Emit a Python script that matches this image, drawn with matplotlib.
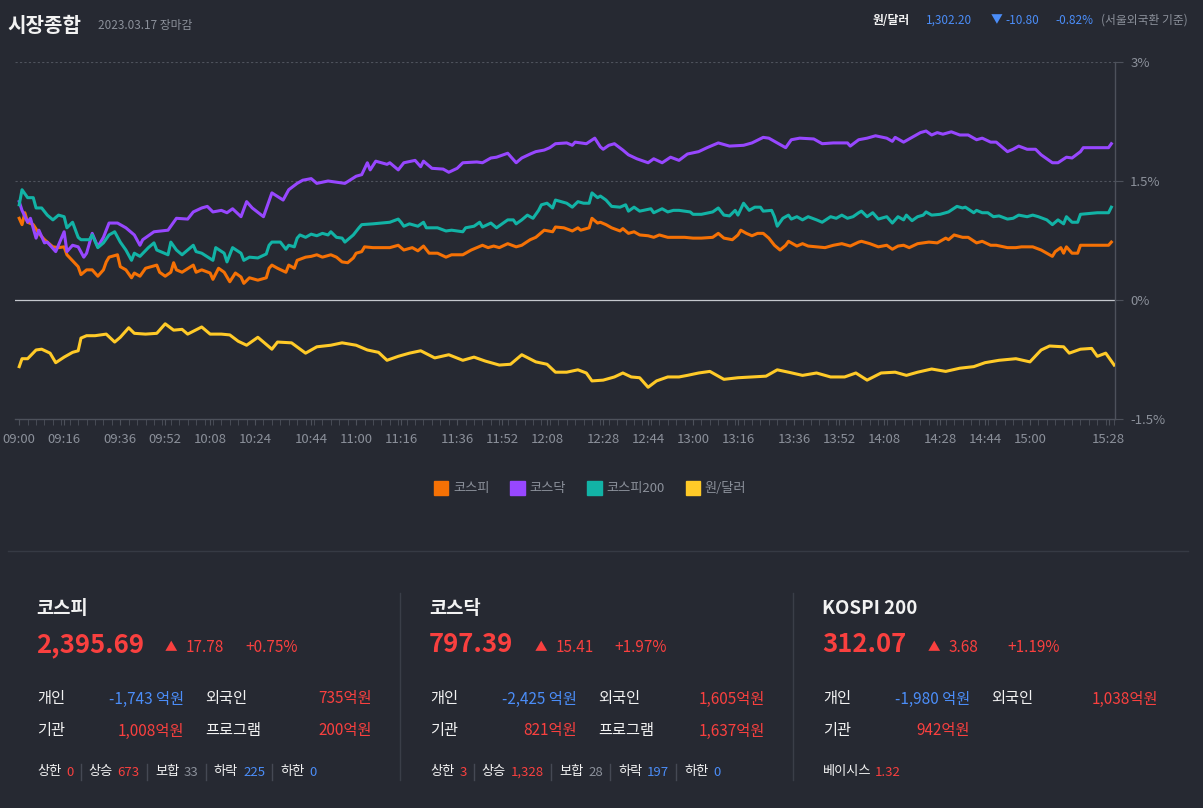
import matplotlib
matplotlib.use('Agg')
import matplotlib.pyplot as plt
from matplotlib.patches import Patch
from matplotlib.lines import Line2D
from matplotlib.ticker import MultipleLocator

plt.rcParams['font.family'] = ['Noto Sans CJK KR', 'DejaVu Sans']

W, H = 1203, 808
BG = '#262932'
RED = '#f9403f'
BLUE = '#4b8df8'
GRAY = '#8b909a'
WHITE = '#f2f2f2'

## minutes after 09:00, change vs previous close (%)
kospi_min = [0, 1, 2, 3, 5, 7, 9, 10, 12, 14,
             16, 17, 21, 22, 24, 26, 28, 30, 31, 32,
             35, 36, 38, 40, 41, 43, 45, 47, 49, 50,
             52, 54, 55, 56, 58, 62, 63, 65, 68, 69,
             71, 73, 75, 77, 79, 80, 82, 85, 88, 89,
             90, 92, 95, 96, 98, 99, 102, 104, 106, 108,
             111, 113, 115, 117, 119, 120, 122, 123, 126, 130,
             132, 135, 137, 140, 142, 144, 146, 149, 152, 154,
             158, 161, 165, 167, 169, 171, 174, 177, 179, 182,
             184, 187, 190, 191, 194, 197, 199, 200, 203, 204,
             206, 207, 209, 211, 214, 215, 217, 219, 221, 224,
             226, 228, 231, 234, 237, 240, 243, 247, 249, 251,
             254, 256, 257, 259, 261, 263, 265, 267, 269, 271,
             273, 274, 277, 279, 281, 284, 287, 290, 293, 296,
             299, 300, 303, 306, 309, 311, 313, 315, 317, 320,
             322, 324, 327, 330, 331, 333, 336, 338, 341, 343,
             346, 348, 352, 355, 357, 361, 364, 368, 369, 371,
             372, 373, 375, 377, 378, 384, 388, 389]
kospi_pct = [1.03, 0.95, 1.10, 0.98, 0.95, 0.84, 0.76, 0.73, 0.67, 0.66,
             0.67, 0.57, 0.42, 0.32, 0.38, 0.38, 0.30, 0.38, 0.48, 0.54,
             0.57, 0.42, 0.38, 0.28, 0.34, 0.30, 0.40, 0.42, 0.44, 0.35,
             0.30, 0.35, 0.47, 0.38, 0.35, 0.44, 0.35, 0.38, 0.34, 0.26,
             0.40, 0.35, 0.23, 0.34, 0.29, 0.21, 0.28, 0.25, 0.28, 0.40,
             0.44, 0.40, 0.35, 0.44, 0.40, 0.50, 0.54, 0.55, 0.57, 0.54,
             0.57, 0.54, 0.48, 0.47, 0.53, 0.59, 0.61, 0.67, 0.66, 0.66,
             0.66, 0.69, 0.63, 0.66, 0.62, 0.68, 0.59, 0.59, 0.54, 0.57,
             0.57, 0.63, 0.69, 0.66, 0.68, 0.66, 0.71, 0.67, 0.69, 0.76,
             0.79, 0.88, 0.86, 0.92, 0.91, 0.87, 0.91, 0.88, 0.91, 1.03,
             0.97, 0.98, 0.95, 0.91, 0.87, 0.90, 0.84, 0.86, 0.82, 0.81,
             0.79, 0.82, 0.79, 0.79, 0.79, 0.78, 0.78, 0.79, 0.84, 0.78,
             0.76, 0.82, 0.88, 0.84, 0.81, 0.84, 0.84, 0.78, 0.69, 0.63,
             0.69, 0.74, 0.68, 0.71, 0.68, 0.67, 0.66, 0.69, 0.71, 0.68,
             0.73, 0.74, 0.71, 0.67, 0.69, 0.64, 0.68, 0.69, 0.66, 0.71,
             0.72, 0.73, 0.72, 0.78, 0.76, 0.82, 0.79, 0.79, 0.72, 0.74,
             0.69, 0.69, 0.66, 0.66, 0.67, 0.67, 0.63, 0.55, 0.61, 0.66,
             0.59, 0.67, 0.59, 0.59, 0.69, 0.69, 0.69, 0.73]

kosdaq_min = [0, 1, 3, 4, 6, 7, 9, 10, 13, 16,
              17, 19, 21, 23, 24, 26, 28, 30, 32, 35,
              38, 41, 43, 44, 48, 53, 56, 60, 62, 65,
              67, 69, 72, 74, 76, 79, 81, 83, 87, 90,
              94, 96, 99, 101, 104, 106, 110, 112, 116, 120,
              122, 124, 125, 127, 131, 132, 135, 137, 141, 143,
              144, 147, 151, 153, 156, 158, 163, 165, 168, 170,
              174, 177, 179, 182, 184, 187, 189, 191, 195, 197,
              198, 200, 202, 205, 207, 208, 210, 212, 215, 217,
              220, 224, 226, 229, 232, 235, 238, 242, 245, 249,
              253, 258, 261, 265, 267, 270, 273, 275, 278, 283,
              286, 290, 295, 296, 299, 302, 305, 309, 311, 312,
              315, 318, 321, 323, 325, 327, 329, 332, 335, 338,
              341, 343, 346, 348, 352, 354, 356, 359, 362, 364,
              368, 370, 373, 375, 378, 379, 384, 388, 389]
kosdaq_pct = [1.24, 1.13, 0.98, 1.03, 0.78, 0.88, 0.72, 0.73, 0.61, 0.86,
              0.61, 0.69, 0.67, 0.54, 0.59, 0.84, 0.67, 0.79, 0.97, 0.97,
              0.91, 0.82, 0.69, 0.76, 0.86, 0.88, 1.03, 1.02, 1.11, 1.16,
              1.18, 1.11, 1.13, 1.10, 1.15, 1.05, 1.24, 1.16, 1.05, 1.35,
              1.26, 1.39, 1.47, 1.51, 1.53, 1.47, 1.50, 1.49, 1.47, 1.56,
              1.58, 1.73, 1.64, 1.75, 1.71, 1.73, 1.64, 1.73, 1.76, 1.68,
              1.75, 1.66, 1.65, 1.61, 1.66, 1.73, 1.74, 1.73, 1.79, 1.80,
              1.85, 1.73, 1.79, 1.84, 1.87, 1.89, 1.92, 1.97, 1.98, 1.95,
              1.99, 1.98, 1.97, 2.04, 1.93, 1.90, 1.95, 1.97, 1.89, 1.83,
              1.78, 1.73, 1.78, 1.73, 1.80, 1.76, 1.84, 1.87, 1.92, 1.98,
              1.94, 1.95, 1.98, 2.05, 2.04, 1.98, 1.92, 2.02, 2.04, 2.03,
              1.97, 1.98, 1.98, 1.94, 2.02, 2.04, 2.07, 2.04, 2.00, 2.05,
              1.99, 2.05, 2.11, 2.13, 2.08, 2.11, 2.09, 2.12, 2.08, 2.08,
              2.02, 2.04, 1.99, 1.99, 1.87, 1.90, 1.94, 1.90, 1.90, 1.83,
              1.73, 1.73, 1.80, 1.79, 1.87, 1.92, 1.92, 1.92, 1.97]

k200_min = [0, 1, 3, 5, 6, 8, 10, 12, 14, 16,
            17, 19, 21, 22, 25, 26, 28, 30, 32, 34,
            36, 38, 40, 41, 43, 46, 48, 49, 53, 54,
            56, 58, 62, 63, 65, 69, 70, 73, 74, 76,
            79, 80, 82, 85, 88, 89, 90, 93, 95, 96,
            98, 99, 100, 102, 104, 106, 108, 110, 111, 113,
            115, 116, 119, 121, 122, 126, 129, 132, 135, 136,
            137, 139, 142, 144, 145, 149, 152, 154, 158, 159,
            162, 164, 165, 168, 170, 174, 176, 177, 179, 181,
            183, 185, 186, 188, 190, 191, 193, 195, 197, 199,
            201, 203, 204, 206, 207, 209, 211, 214, 216, 217,
            219, 221, 225, 226, 229, 231, 233, 235, 239, 240,
            243, 247, 249, 251, 253, 255, 256, 258, 260, 262,
            264, 265, 268, 269, 270, 272, 274, 275, 277, 279,
            281, 284, 286, 289, 291, 293, 295, 297, 299, 300,
            302, 304, 306, 309, 311, 313, 315, 316, 318, 320,
            322, 323, 325, 328, 331, 334, 336, 337, 340, 341,
            343, 345, 347, 349, 352, 354, 356, 359, 361, 363,
            366, 368, 370, 372, 373, 375, 377, 378, 384, 388,
            389]
k200_pct = [1.20, 1.39, 1.29, 1.29, 1.16, 1.16, 1.07, 1.01, 1.07, 1.05,
            0.91, 0.98, 0.79, 0.76, 0.76, 0.82, 0.66, 0.72, 0.82, 0.86,
            0.73, 0.63, 0.50, 0.59, 0.55, 0.66, 0.72, 0.63, 0.57, 0.73,
            0.63, 0.57, 0.69, 0.61, 0.59, 0.50, 0.66, 0.59, 0.48, 0.66,
            0.59, 0.50, 0.54, 0.53, 0.58, 0.69, 0.73, 0.73, 0.64, 0.69,
            0.67, 0.78, 0.82, 0.79, 0.83, 0.81, 0.84, 0.82, 0.86, 0.79,
            0.78, 0.73, 0.82, 0.91, 0.95, 0.96, 0.97, 0.98, 1.02, 0.98,
            0.93, 0.96, 0.93, 0.98, 0.91, 0.91, 0.87, 0.88, 0.86, 0.91,
            0.93, 0.98, 0.92, 0.97, 0.91, 1.01, 1.01, 0.96, 1.01, 1.07,
            1.03, 1.13, 1.20, 1.22, 1.16, 1.26, 1.24, 1.22, 1.17, 1.24,
            1.22, 1.22, 1.35, 1.29, 1.31, 1.26, 1.18, 1.17, 1.20, 1.12,
            1.17, 1.12, 1.15, 1.10, 1.15, 1.11, 1.13, 1.13, 1.11, 1.08,
            1.08, 1.11, 1.16, 1.07, 1.06, 1.13, 1.07, 1.22, 1.13, 1.17,
            1.17, 1.12, 1.13, 1.05, 0.93, 1.03, 1.07, 1.02, 1.05, 1.01,
            1.05, 1.01, 0.98, 1.05, 1.03, 1.07, 1.03, 1.05, 1.10, 1.12,
            1.05, 1.10, 1.02, 1.05, 0.97, 1.05, 1.01, 1.07, 1.00, 1.05,
            1.07, 1.11, 1.07, 1.08, 1.11, 1.18, 1.16, 1.17, 1.10, 1.13,
            1.10, 1.10, 1.05, 1.06, 1.02, 1.03, 1.07, 1.05, 1.07, 1.05,
            1.01, 0.95, 1.01, 0.96, 1.05, 0.98, 0.98, 1.08, 1.10, 1.10,
            1.17]

usd_min = [0, 1, 3, 6, 8, 11, 13, 16, 19, 21,
           22, 24, 27, 31, 34, 36, 39, 41, 45, 49,
           52, 55, 58, 60, 65, 68, 72, 75, 78, 81,
           85, 90, 92, 97, 102, 106, 111, 115, 120, 124,
           128, 131, 135, 139, 143, 148, 153, 158, 162, 166,
           171, 175, 179, 184, 188, 191, 195, 199, 202, 204,
           208, 212, 215, 218, 221, 224, 227, 231, 235, 238,
           242, 246, 251, 256, 261, 266, 270, 274, 279, 284,
           289, 294, 298, 302, 307, 312, 316, 320, 325, 330,
           335, 340, 344, 349, 355, 360, 364, 367, 372, 374,
           378, 382, 384, 387, 390]
usd_pct = [-0.84, -0.74, -0.74, -0.63, -0.62, -0.67, -0.79, -0.72, -0.66, -0.64,
           -0.48, -0.45, -0.45, -0.43, -0.53, -0.47, -0.35, -0.42, -0.43, -0.42,
           -0.30, -0.38, -0.37, -0.43, -0.34, -0.43, -0.43, -0.44, -0.52, -0.57,
           -0.47, -0.62, -0.53, -0.54, -0.67, -0.59, -0.57, -0.54, -0.57, -0.63,
           -0.66, -0.76, -0.71, -0.67, -0.64, -0.73, -0.69, -0.76, -0.72, -0.77,
           -0.82, -0.81, -0.69, -0.78, -0.81, -0.91, -0.91, -0.88, -0.92, -1.02,
           -1.01, -0.97, -0.92, -0.97, -0.98, -1.10, -1.02, -0.97, -0.97, -0.95,
           -0.92, -0.90, -1.00, -0.98, -0.97, -0.96, -0.88, -0.91, -0.95, -0.92,
           -0.97, -0.97, -0.92, -1.01, -0.92, -0.91, -0.95, -0.91, -0.87, -0.90,
           -0.86, -0.84, -0.79, -0.76, -0.74, -0.78, -0.63, -0.58, -0.59, -0.67,
           -0.62, -0.61, -0.71, -0.67, -0.82]

series_names = ['코스피', '코스닥', '코스피200', '원/달러']
series_colors = ['#f57105', '#9747ff', '#12b3a6', '#ffca28']

tick_labels = ['09:00', '09:16', '09:36', '09:52', '10:08', '10:24', '10:44', '11:00',
               '11:16', '11:36', '11:52', '12:08', '12:28', '12:44', '13:00', '13:16',
               '13:36', '13:52', '14:08', '14:28', '14:44', '15:00', '15:28']
y_ticks = [3, 1.5, 0, -1.5]
y_tick_labels = ['3%', '1.5%', '0%', '-1.5%']

## lower panels
panel_names = ['코스피', '코스닥', 'KOSPI 200']
panel_price = ['2,395.69', '797.39', '312.07']
panel_change = ['17.78', '15.41', '3.68']
panel_rate = ['+0.75%', '+1.97%', '+1.19%']
panel_indiv = ['-1,743 억원', '-2,425 억원', '-1,980 억원']
panel_foreign = ['735억원', '1,605억원', '1,038억원']
panel_inst = ['1,008억원', '821억원', '942억원']
panel_program = ['200억원', '1,637억원', None]
breadth_labels = ['상한', '상승', '보합', '하락', '하한']
breadth_colors = [RED, RED, GRAY, BLUE, BLUE]
breadth_values = [['0', '673', '33', '225', '0'],
                  ['3', '1,328', '28', '197', '0'],
                  None]
basis_value = '1.32'

fx_name = '원/달러'
fx_price = '1,302.20'
fx_change = '-10.80'
fx_rate = '-0.82%'


def to_min(s):
    h, m = s.split(':')
    return (int(h) - 9) * 60 + int(m)


fig = plt.figure(figsize=(W / 100, H / 100), dpi=100, facecolor=BG)


def put(x, y, s, size, color, weight='normal', ha='left'):
    return fig.text(x / W, 1 - y / H, s, fontsize=size, color=color,
                    fontweight=weight, ha=ha, va='center')


## chart
ax = fig.add_axes([15 / W, 1 - 419 / H, 1100 / W, 357 / H])
ax.set_facecolor(BG)
ax.set_xlim(-1.5, 390.3)
ax.set_ylim(-1.5, 3)
for sp in ['top', 'left']:
    ax.spines[sp].set_visible(False)
for sp in ['right', 'bottom']:
    ax.spines[sp].set_color('#4d515b')
    ax.spines[sp].set_linewidth(1)

ax.axhline(3, color='#4f535d', lw=0.8, ls=(0, (2, 2)), zorder=1)
ax.axhline(1.5, color='#4f535d', lw=0.8, ls=(0, (2, 2)), zorder=1)
ax.axhline(0, color='#c4c7cd', lw=0.9, zorder=1)

xs = [kospi_min, kosdaq_min, k200_min, usd_min]
ys = [kospi_pct, kosdaq_pct, k200_pct, usd_pct]
for x, y, c in zip(xs, ys, series_colors):
    ax.plot(x, y, color=c, lw=2.2, zorder=3)

ax.yaxis.tick_right()
ax.set_yticks(y_ticks)
ax.set_yticklabels(y_tick_labels)
ax.set_xticks([to_min(s) for s in tick_labels])
ax.set_xticklabels(tick_labels)
ax.xaxis.set_minor_locator(MultipleLocator(3))
ax.tick_params(axis='y', colors='#4d515b', labelcolor=GRAY, length=6, pad=5, labelsize=9.5)
ax.tick_params(axis='x', which='both', colors='#4d515b', labelcolor=GRAY, length=4,
               pad=6, labelsize=9.5)

handles = [Patch(facecolor=c, edgecolor=c) for c in series_colors]
fig.legend(handles, series_names, loc='center', bbox_to_anchor=(590 / W, 1 - 488 / H),
           ncol=4, frameon=False, handlelength=1.1, handleheight=1.3, handletextpad=0.35,
           columnspacing=1.6, labelcolor=GRAY, fontsize=9.5)

## header
put(7, 26, '시장종합', 14.5, WHITE, 'bold')
put(98, 26, '2023.03.17 장마감', 8.5, GRAY)
put(873, 20, fx_name, 8.5, WHITE, 'bold')
put(926, 20, fx_price, 8.5, BLUE)
put(991, 20, '▼', 8.5, BLUE)
put(1005, 20, fx_change, 8.5, BLUE)
put(1055, 20, fx_rate, 8.5, BLUE)
put(1101, 20, '(서울외국환 기준)', 8.5, GRAY)

fig.add_artist(Line2D([8 / W, 1188 / W], [1 - 551 / H] * 2, color='#363a44', lw=1))
for sx in [400, 793]:
    fig.add_artist(Line2D([sx / W] * 2, [1 - 593 / H, 1 - 780 / H], color='#3a3e48', lw=1))

## panels
fig.canvas.draw()
renderer = fig.canvas.get_renderer()

x0s = [37, 430, 823]
for i, x0 in enumerate(x0s):
    put(x0 - 1, 608, panel_names[i], 13.5, WHITE, 'bold')
    t = put(x0 - 1, 645, panel_price[i], 18.5, RED, 'bold')
    ext = t.get_window_extent(renderer)
    xa = ext.x1 + 21
    put(xa, 648, '▲', 9, RED)
    put(xa + 21, 648, panel_change[i], 11, RED)
    put(xa + 80, 648, panel_rate[i], 11, RED)

    put(x0, 699, '개인', 11, WHITE)
    put(x0 + 147, 699, panel_indiv[i], 11, BLUE, ha='right')
    put(x0 + 168, 699, '외국인', 11, WHITE)
    put(x0 + 335, 699, panel_foreign[i], 11, RED, ha='right')
    put(x0, 731, '기관', 11, WHITE)
    put(x0 + 147, 731, panel_inst[i], 11, RED, ha='right')
    if panel_program[i] is not None:
        put(x0 + 168, 731, '프로그램', 11, WHITE)
        put(x0 + 335, 731, panel_program[i], 11, RED, ha='right')

    if breadth_values[i] is not None:
        x = x0
        for j, (lab, val, col) in enumerate(zip(breadth_labels, breadth_values[i], breadth_colors)):
            t1 = put(x, 772, lab, 9.5, WHITE)
            x = t1.get_window_extent(renderer).x1 + 5
            t2 = put(x, 772, val, 9.5, col)
            x = t2.get_window_extent(renderer).x1 + 7
            if j < len(breadth_labels) - 1:
                fig.add_artist(Line2D([x / W] * 2, [1 - 764 / H, 1 - 780 / H],
                                      color='#454954', lw=1))
                x += 8
    else:
        t1 = put(x0, 772, '베이시스', 9.5, WHITE)
        put(t1.get_window_extent(renderer).x1 + 3, 772, basis_value, 9.5, RED)

fig.savefig('out.png', dpi=100, facecolor=BG)
